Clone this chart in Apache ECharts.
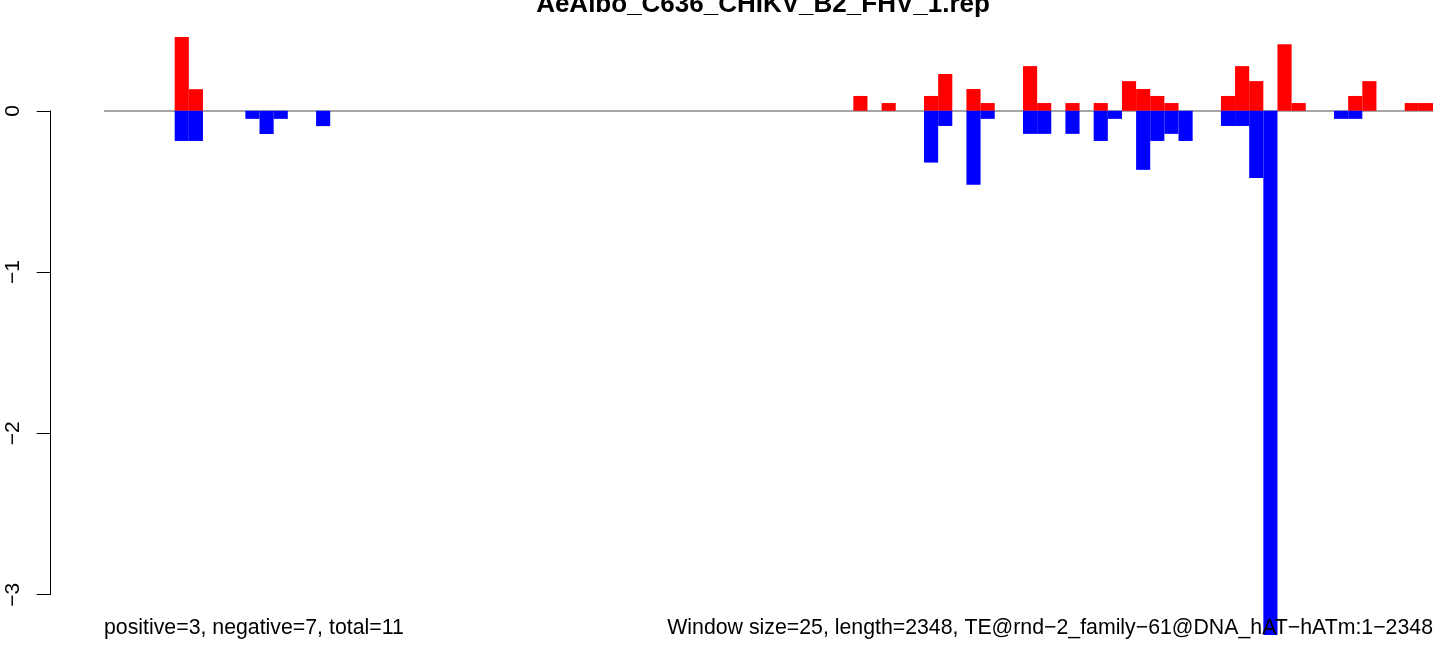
<!DOCTYPE html>
<html>
<head>
<meta charset="utf-8">
<script src="https://cdn.jsdelivr.net/npm/echarts@6/dist/echarts.min.js"></script>
<style>html,body{margin:0;padding:0;background:#fff;}#c{width:1449px;height:646px;}</style>
</head>
<body>
<div id="c"></div>
<script>
// 94 windows of 25 bp over a 2348 bp element
const windowStarts = [
  1,26,51,76,101,126,151,176,201,226,251,276,301,326,351,376,401,426,451,476,
  501,526,551,576,601,626,651,676,701,726,751,776,801,826,851,876,901,926,951,976,
  1001,1026,1051,1076,1101,1126,1151,1176,1201,1226,1251,1276,1301,1326,1351,1376,1401,1426,1451,1476,
  1501,1526,1551,1576,1601,1626,1651,1676,1701,1726,1751,1776,1801,1826,1851,1876,1901,1926,1951,1976,
  2001,2026,2051,2076,2101,2126,2151,2176,2201,2226,2251,2276,2301,2326
];
const positiveValues = [
  0,0,0,0,0,0.457,0.134,0,0,0, 0,0,0,0,0,0,0,0,0,0,
  0,0,0,0,0,0,0,0,0,0, 0,0,0,0,0,0,0,0,0,0,
  0,0,0,0,0,0,0,0,0,0, 0,0,0,0.092,0,0.048,0,0,0.092,0.228,
  0,0.135,0.048,0,0,0.277,0.048,0,0.048,0, 0.048,0,0.184,0.135,0.092,0.048,0,0,0,0.092,
  0.277,0.184,0,0.413,0.048,0,0,0,0.092,0.184, 0,0,0.048,0.048
];
const negativeValues = [
  0,0,0,0,0,-0.187,-0.187,0,0,0, -0.05,-0.144,-0.05,0,0,-0.095,0,0,0,0,
  0,0,0,0,0,0,0,0,0,0, 0,0,0,0,0,0,0,0,0,0,
  0,0,0,0,0,0,0,0,0,0, 0,0,0,0,0,0,0,0,-0.321,-0.094,
  0,-0.459,-0.05,0,0,-0.143,-0.143,0,-0.143,0, -0.187,-0.05,0,-0.366,-0.187,-0.143,-0.187,0,0,-0.094,
  -0.094,-0.416,-3.25,0,0,0,0,-0.05,-0.05,0, 0,0,0,0
];
const yTicks = [0, -1, -2, -3];
const titleText = 'AeAlbo_C636_CHIKV_B2_FHV_1.rep';
const leftNote = 'positive=3, negative=7, total=11';
const rightNote = 'Window size=25, length=2348, TE@rnd\u22122_family\u221261@DNA_hAT\u2212hATm:1\u22122348';

const FONT = '"Liberation Sans", Arial, Helvetica, sans-serif';
const chart = echarts.init(document.getElementById('c'), null, {renderer: 'canvas'});
chart.setOption({
  animation: false,
  backgroundColor: '#ffffff',
  grid: [
    {left: 104, right: 16, top: 14.02, bottom: 2.91, containLabel: false},
    {left: 50.7, width: 40, top: 110.8, height: 483.9, containLabel: false}
  ],
  xAxis: [
    {type: 'category', gridIndex: 0, data: windowStarts, show: false, boundaryGap: true},
    {type: 'value', gridIndex: 1, show: false, min: 0, max: 1}
  ],
  yAxis: [
    {type: 'value', gridIndex: 0, min: -3.3, max: 0.6, show: false},
    {type: 'value', gridIndex: 1, min: -3, max: 0, interval: 1,
     axisLine: {show: true, lineStyle: {color: '#000', width: 1}},
     axisTick: {show: true, length: 14, inside: false, lineStyle: {color: '#000', width: 1}},
     splitLine: {show: false},
     axisLabel: {show: true, rotate: 90, margin: 27, color: '#000', fontSize: 21, fontFamily: FONT,
       formatter: v => yTicks.indexOf(v) >= 0 ? String(v).replace('-', '\u2212') : ''}
    }
  ],
  series: [
    {type: 'bar', name: 'positive', xAxisIndex: 0, yAxisIndex: 0, data: positiveValues,
     barCategoryGap: 0, barGap: '-100%', itemStyle: {color: '#ff0000'}, z: 3,
     markLine: {silent: true, symbol: 'none', label: {show: false},
       lineStyle: {color: '#a6a6a6', width: 2, type: 'solid'}, data: [{yAxis: 0}], z: 1}},
    {type: 'bar', name: 'negative', xAxisIndex: 0, yAxisIndex: 0, data: negativeValues,
     barCategoryGap: 0, barGap: '-100%', itemStyle: {color: '#0000ff'}, z: 3}
  ],
  graphic: [
    {type: 'text', x: 763, y: 5, z: 10,
     style: {text: titleText, font: 'bold 26px ' + FONT, fill: '#000', textAlign: 'center', textVerticalAlign: 'middle'}},
    {type: 'text', x: 104, y: 628.5, z: 10,
     style: {text: leftNote, font: '21.3px ' + FONT, fill: '#000', textAlign: 'left', textVerticalAlign: 'middle'}},
    {type: 'text', x: 1433, y: 628.5, z: 10,
     style: {text: rightNote, font: '21.3px ' + FONT, fill: '#000', textAlign: 'right', textVerticalAlign: 'middle'}}
  ]
});
</script>
</body>
</html>
